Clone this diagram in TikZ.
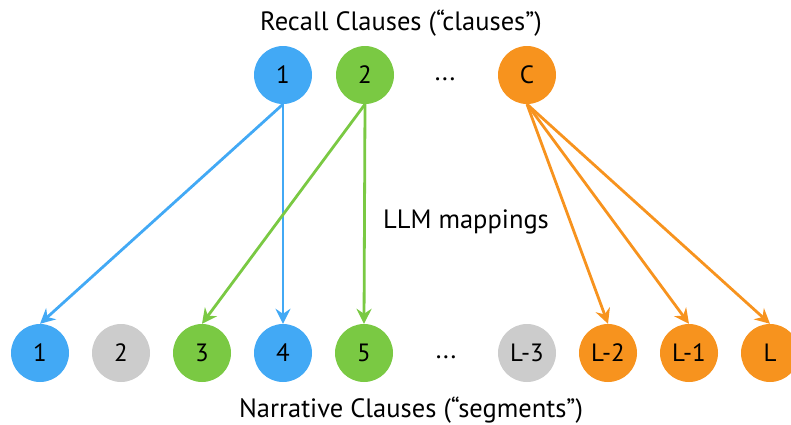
\documentclass[tikz,border=0pt]{standalone}
\usepackage{fontspec}
\setmainfont{PT Sans}
\usetikzlibrary{arrows.meta}
\definecolor{cblue}{HTML}{42A9F5}
\definecolor{cgreen}{HTML}{7AC943}
\definecolor{corange}{HTML}{F7931E}
\definecolor{cgray}{HTML}{CCCCCC}
\tikzset{
  circ/.style={circle, minimum size=58pt, inner sep=0pt, font=\fontsize{25}{25}\selectfont, text=black},
  lbl/.style={font=\fontsize{26.5}{26.5}\selectfont, text=black, anchor=base, inner sep=0pt},
  conn/.style={line width=2.8pt, -{Stealth[length=15pt, width=15pt, inset=5pt]}, shorten >=0pt},
}
\begin{document}
\begin{tikzpicture}[x=1pt, y=-1pt]
\useasboundingbox (0,0) rectangle (791,424);
\begin{scope}
\clip (0,0) rectangle (791,424);
% top row
\node[circ, fill=cblue] (t1) at (283,75) {1};
\node[circ, fill=cgreen] (t2) at (365,75) {2};
\node[lbl] (tdots) at (445,80) {...};
\node[circ, fill=corange] (tc) at (527,75) {C};
% bottom row
\node[circ, fill=cblue] (b1) at (40,353) {1};
\node[circ, fill=cgray] (b2) at (121,353) {2};
\node[circ, fill=cgreen] (b3) at (202,353) {3};
\node[circ, fill=cblue] (b4) at (283,353) {4};
\node[circ, fill=cgreen] (b5) at (364,353) {5};
\node[lbl] (bdots) at (446,358) {...};
\node[circ, fill=cgray] (bl3) at (527,353) {L-3};
\node[circ, fill=corange] (bl2) at (608,353) {L-2};
\node[circ, fill=corange] (bl1) at (689,353) {L-1};
\node[circ, fill=corange] (bl) at (770,353) {L};
% labels
\node[lbl] (top) at (401,30) {Recall Clauses (“clauses”)};
\node[lbl] (bot) at (411,417) {Narrative Clauses (“segments”)};
\node[lbl] (mid) at (466,228) {LLM mappings};
% connectors
\draw[conn, cblue] (t1.south) -- (b1.north);
\draw[conn, cblue] (t1.south) -- (b4.north);
\draw[conn, cgreen] (t2.south) -- (b3.north);
\draw[conn, cgreen] (t2.south) -- (b5.north);
\draw[conn, corange] (tc.south) -- (bl2.north);
\draw[conn, corange] (tc.south) -- (bl1.north);
\draw[conn, corange] (tc.south) -- (bl.north);
\end{scope}
\end{tikzpicture}
\end{document}
